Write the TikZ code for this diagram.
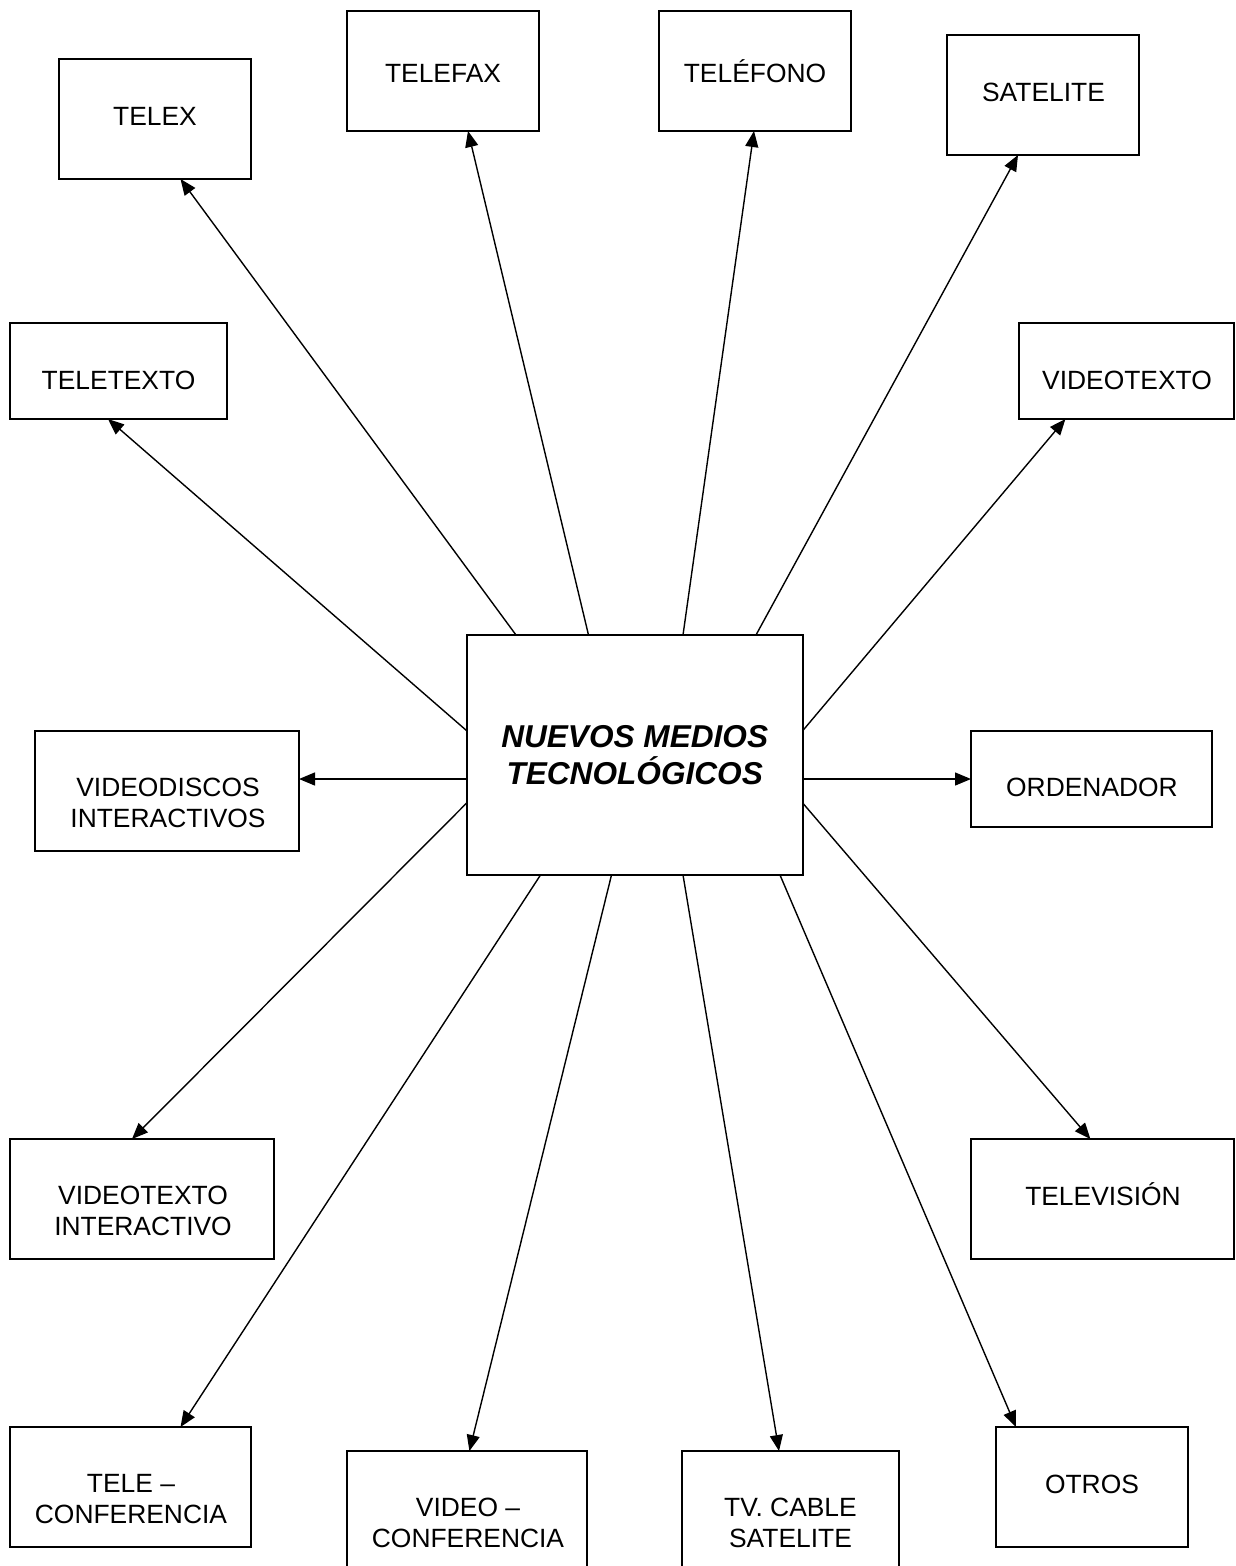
\documentclass[tikz,border=0pt]{standalone}
\usepackage{fontspec}
\setmainfont{Liberation Sans}
\usetikzlibrary{arrows.meta}
\tikzset{
  box/.style={draw, line width=1.8pt, inner sep=0pt, outer sep=0pt, fill=white},
  lbl/.style={font=\fontsize{26.4}{31}\selectfont, align=center, inner sep=0pt, outer sep=0pt},
  mainlbl/.style={font=\fontsize{31.6}{37.3}\selectfont\bfseries\itshape, align=center},
  arr/.style={-{Triangle[length=16pt,width=13pt]}, line width=1.4pt},
}
\begin{document}
\begin{tikzpicture}[x=1pt,y=-1pt]
\useasboundingbox (0,0) rectangle (1235,1566);
\fill[white] (0,0) rectangle (1235,1566);
\clip (0,0) rectangle (1235,1566);

% centre
\node[box, mainlbl, minimum width=336pt, minimum height=240pt] (c) at (634.7,755) {NUEVOS MEDIOS\\TECNOLÓGICOS};

% boxes
\node[box, minimum width=192pt, minimum height=120pt] (telex) at (155,119) {};
\node[box, minimum width=192pt, minimum height=120pt] (telefax) at (443,71) {};
\node[box, minimum width=192pt, minimum height=120pt] (telefono) at (755,71) {};
\node[box, minimum width=192pt, minimum height=120pt] (satelite) at (1043,95) {};
\node[box, minimum width=217pt, minimum height=96pt] (teletexto) at (118.5,371) {};
\node[box, minimum width=215pt, minimum height=96pt] (videotexto) at (1126.5,371) {};
\node[box, minimum width=264pt, minimum height=120pt] (videodiscos) at (167,791) {};
\node[box, minimum width=241pt, minimum height=96pt] (ordenador) at (1091.5,779) {};
\node[box, minimum width=264pt, minimum height=120pt] (vtint) at (142,1199) {};
\node[box, minimum width=263pt, minimum height=120pt] (television) at (1102.5,1199) {};
\node[box, minimum width=241pt, minimum height=120pt] (telecon) at (130.5,1487) {};
\node[box, minimum width=240pt, minimum height=120pt] (videocon) at (467,1511) {};
\node[box, minimum width=217pt, minimum height=120pt] (tvcable) at (790.5,1511) {};
\node[box, minimum width=192pt, minimum height=120pt] (otros) at (1092,1487) {};

% texts
\node[lbl, anchor=base] (ttelex) at (155,125.5) {TELEX};
\node[lbl, anchor=base] (ttelefax) at (443,82.5) {TELEFAX};
\node[lbl, anchor=base] (ttelefono) at (755,82.5) {TELÉFONO};
\node[lbl, anchor=base] (tsatelite) at (1043.5,101.5) {SATELITE};
\node[lbl, anchor=base] (tteletexto) at (118.5,389) {TELETEXTO};
\node[lbl, anchor=base] (tvideotexto) at (1127,389) {VIDEOTEXTO};
\node[lbl, anchor=base] (tordenador) at (1092,796.5) {ORDENADOR};
\node[lbl, anchor=base] (ttelevision) at (1103,1205.5) {TELEVISIÓN};
\node[lbl, anchor=base] (totros) at (1092,1493) {OTROS};
\node[lbl] (tvideodiscos) at (168,803) {VIDEODISCOS\\INTERACTIVOS};
\node[lbl] (tvtint) at (143,1211) {VIDEOTEXTO\\INTERACTIVO};
\node[lbl] (ttelecon) at (131,1499) {TELE –\\CONFERENCIA};
\node[lbl] (tvideocon) at (468,1523) {VIDEO –\\CONFERENCIA};
\node[lbl] (ttvcable) at (790.5,1523) {TV. CABLE\\SATELITE};

% arrows
\draw[arr] ([xshift=49.3pt]c.north west) -- ([xshift=121.5pt]telex.south west);
\draw[arr] ([xshift=121.8pt]c.north west) -- ([xshift=121pt]telefax.south west);
\draw[arr] ([xshift=216.3pt]c.north west) -- ([xshift=95pt]telefono.south west);
\draw[arr] ([xshift=289.3pt]c.north west) -- ([xshift=71pt]satelite.south west);
\draw[arr] ([yshift=-95.7pt]c.north west) -- ([xshift=98pt]teletexto.south west);
\draw[arr] ([yshift=-95.7pt]c.north east) -- ([xshift=46.4pt]videotexto.south west);
\draw[arr] ([yshift=-144pt]c.north west) -- ([yshift=-48pt]videodiscos.north east);
\draw[arr] ([yshift=-144pt]c.north east) -- ([yshift=-48pt]ordenador.north west);
\draw[arr] ([yshift=-168pt]c.north west) -- ([xshift=122pt]vtint.north west);
\draw[arr] ([yshift=-168pt]c.north east) -- ([xshift=119.4pt]television.north west);
\draw[arr] ([xshift=73.8pt]c.south west) -- ([xshift=170.5pt]telecon.north west);
\draw[arr] ([xshift=144.8pt]c.south west) -- ([xshift=122.4pt]videocon.north west);
\draw[arr] ([xshift=216.3pt]c.south west) -- ([xshift=97pt]tvcable.north west);
\draw[arr] ([xshift=313.3pt]c.south west) -- ([xshift=20pt]otros.north west);
\end{tikzpicture}
\end{document}
